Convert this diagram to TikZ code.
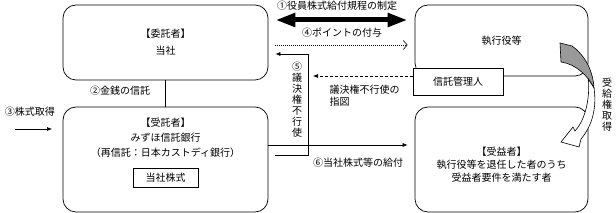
\documentclass[tikz,border=0pt]{standalone}
\usepackage{fontspec}
\setmainfont{Noto Sans CJK JP}
\usetikzlibrary{arrows.meta, positioning, calc}
\tikzset{
    kakomi/.style={draw, line width=0.7pt, rounded corners=13pt, inner sep=0pt, align=center},
    shikaku/.style={draw, line width=0.7pt, fill=white, inner sep=0pt},
    tate/.style={align=center, font=\fontsize{10}{11}\selectfont},
    sen/.style={line width=0.6pt},
    yaji/.style={sen, -{Latex[length=5pt,width=4pt]}}
}
\begin{document}
\begin{tikzpicture}[x=1pt, y=-1pt, font=\fontsize{10}{13}\selectfont]
    \useasboundingbox (0,0) rectangle (616,213);

    % Boxes
    \node[kakomi, minimum width=205pt, minimum height=75pt] (itaku) at (165.5,42.5) {【委託者】\\[4pt]当社};
    \node[kakomi, minimum width=173pt, minimum height=71pt] (shikkou) at (501.5,40.5) {執行役等};
    \node[shikaku, minimum width=90pt, minimum height=27pt] (kanri) at (458,81.5) {信託管理人};
    \node[kakomi, minimum width=205pt, minimum height=105pt] (jutaku) at (165.5,159.5) {};
    \node[align=center] (jutakumei) at (165.5,138) {【受託者】\\[2pt]みずほ信託銀行\\[2pt]（再信託：日本カストディ銀行）};
    \node[shikaku, minimum width=65pt, minimum height=19pt] (tousha) at (165.5,177.5) {当社株式};
    \node[kakomi, minimum width=173pt, minimum height=105pt] (jueki) at (501.5,159.5) {};
    \node[align=center] (juekimei) at (501.5,165) {【受益者】\\執行役等を退任した者のうち\\受益者要件を満たす者};

    % Helper rows
    \coordinate (y20) at (0,20);
    \coordinate (y45) at (0,45);
    \coordinate (y54) at (0,54);
    \coordinate (y76) at (0,76);
    \coordinate (y145) at (0,145);
    \coordinate (y155) at (0,155);
    \coordinate (gyoushi) at (308,0);
    \coordinate (shijisaki) at (313,76);
    \coordinate (kabumoto) at (15,129);
    \coordinate (kabusaki) at (52,129);

    % (1) rules
    \draw[line width=5pt, {Triangle[length=20pt,width=13pt]}-{Triangle[length=20pt,width=13pt]}, shorten <=7pt, shorten >=7pt]
        (itaku.east |- y20) -- (shikkou.west |- y20);
    \node (kitei) at (337,6) {①役員株式給付規程の制定};

    % (4) points
    \draw[sen, dash pattern=on 1pt off 1pt, -{Straight Barb[length=4pt,width=9pt]}, shorten <=7pt, shorten >=7pt]
        (itaku.east |- y45) -- (shikkou.west |- y45);
    \node (point) at (342,33) {④ポイントの付与};

    % voting instruction
    \draw[yaji, dash pattern=on 3pt off 2pt] (kanri.west |- y76) -- (shijisaki);
    \node[align=left, anchor=north west, font=\fontsize{10}{12}\selectfont] (shizu) at (326,82) {議決権不行使の\\指図};

    % (5) no voting
    \draw[yaji] ($(jutaku.east |- y155)+(7,0)$) -- (gyoushi |- y155) -- (gyoushi |- y54) -- ($(itaku.east |- y54)+(7,0)$);
    \node[tate] (fukoushi) at (297,100) {⑤\\議\\決\\権\\不\\行\\使};

    % (2) money trust
    \draw[sen] (itaku.south) -- (jutaku.north);
    \node (kinsen) at (120,91) {②金銭の信託};

    % (3) share purchase
    \draw[yaji] (kabumoto) -- (kabusaki);
    \node (shutoku) at (30,112) {③株式取得};

    % (6) delivery
    \draw[yaji, shorten >=7pt] (jutaku.east |- y145) -- (jueki.west |- y145);
    \node (kyufu) at (358,163) {⑥当社株式等の給付};

    % curved arrow
    \filldraw[sen, fill=black!40] (560,43) -- (572,46) .. controls (586,56) and (593,72) .. (594,88)
        .. controls (588,76) and (576,64) .. (561,62) -- cycle;
    \filldraw[sen, fill=white] (594,88) .. controls (597,108) and (592,126) .. (581,139) -- (579,147) -- (561,142)
        -- (573,127) -- (575,131) .. controls (585,120) and (590,100) .. (588.4,79.2) -- cycle;
    \node[tate] (jukyuken) at (607,105) {受\\給\\権\\取\\得};
\end{tikzpicture}
\end{document}
